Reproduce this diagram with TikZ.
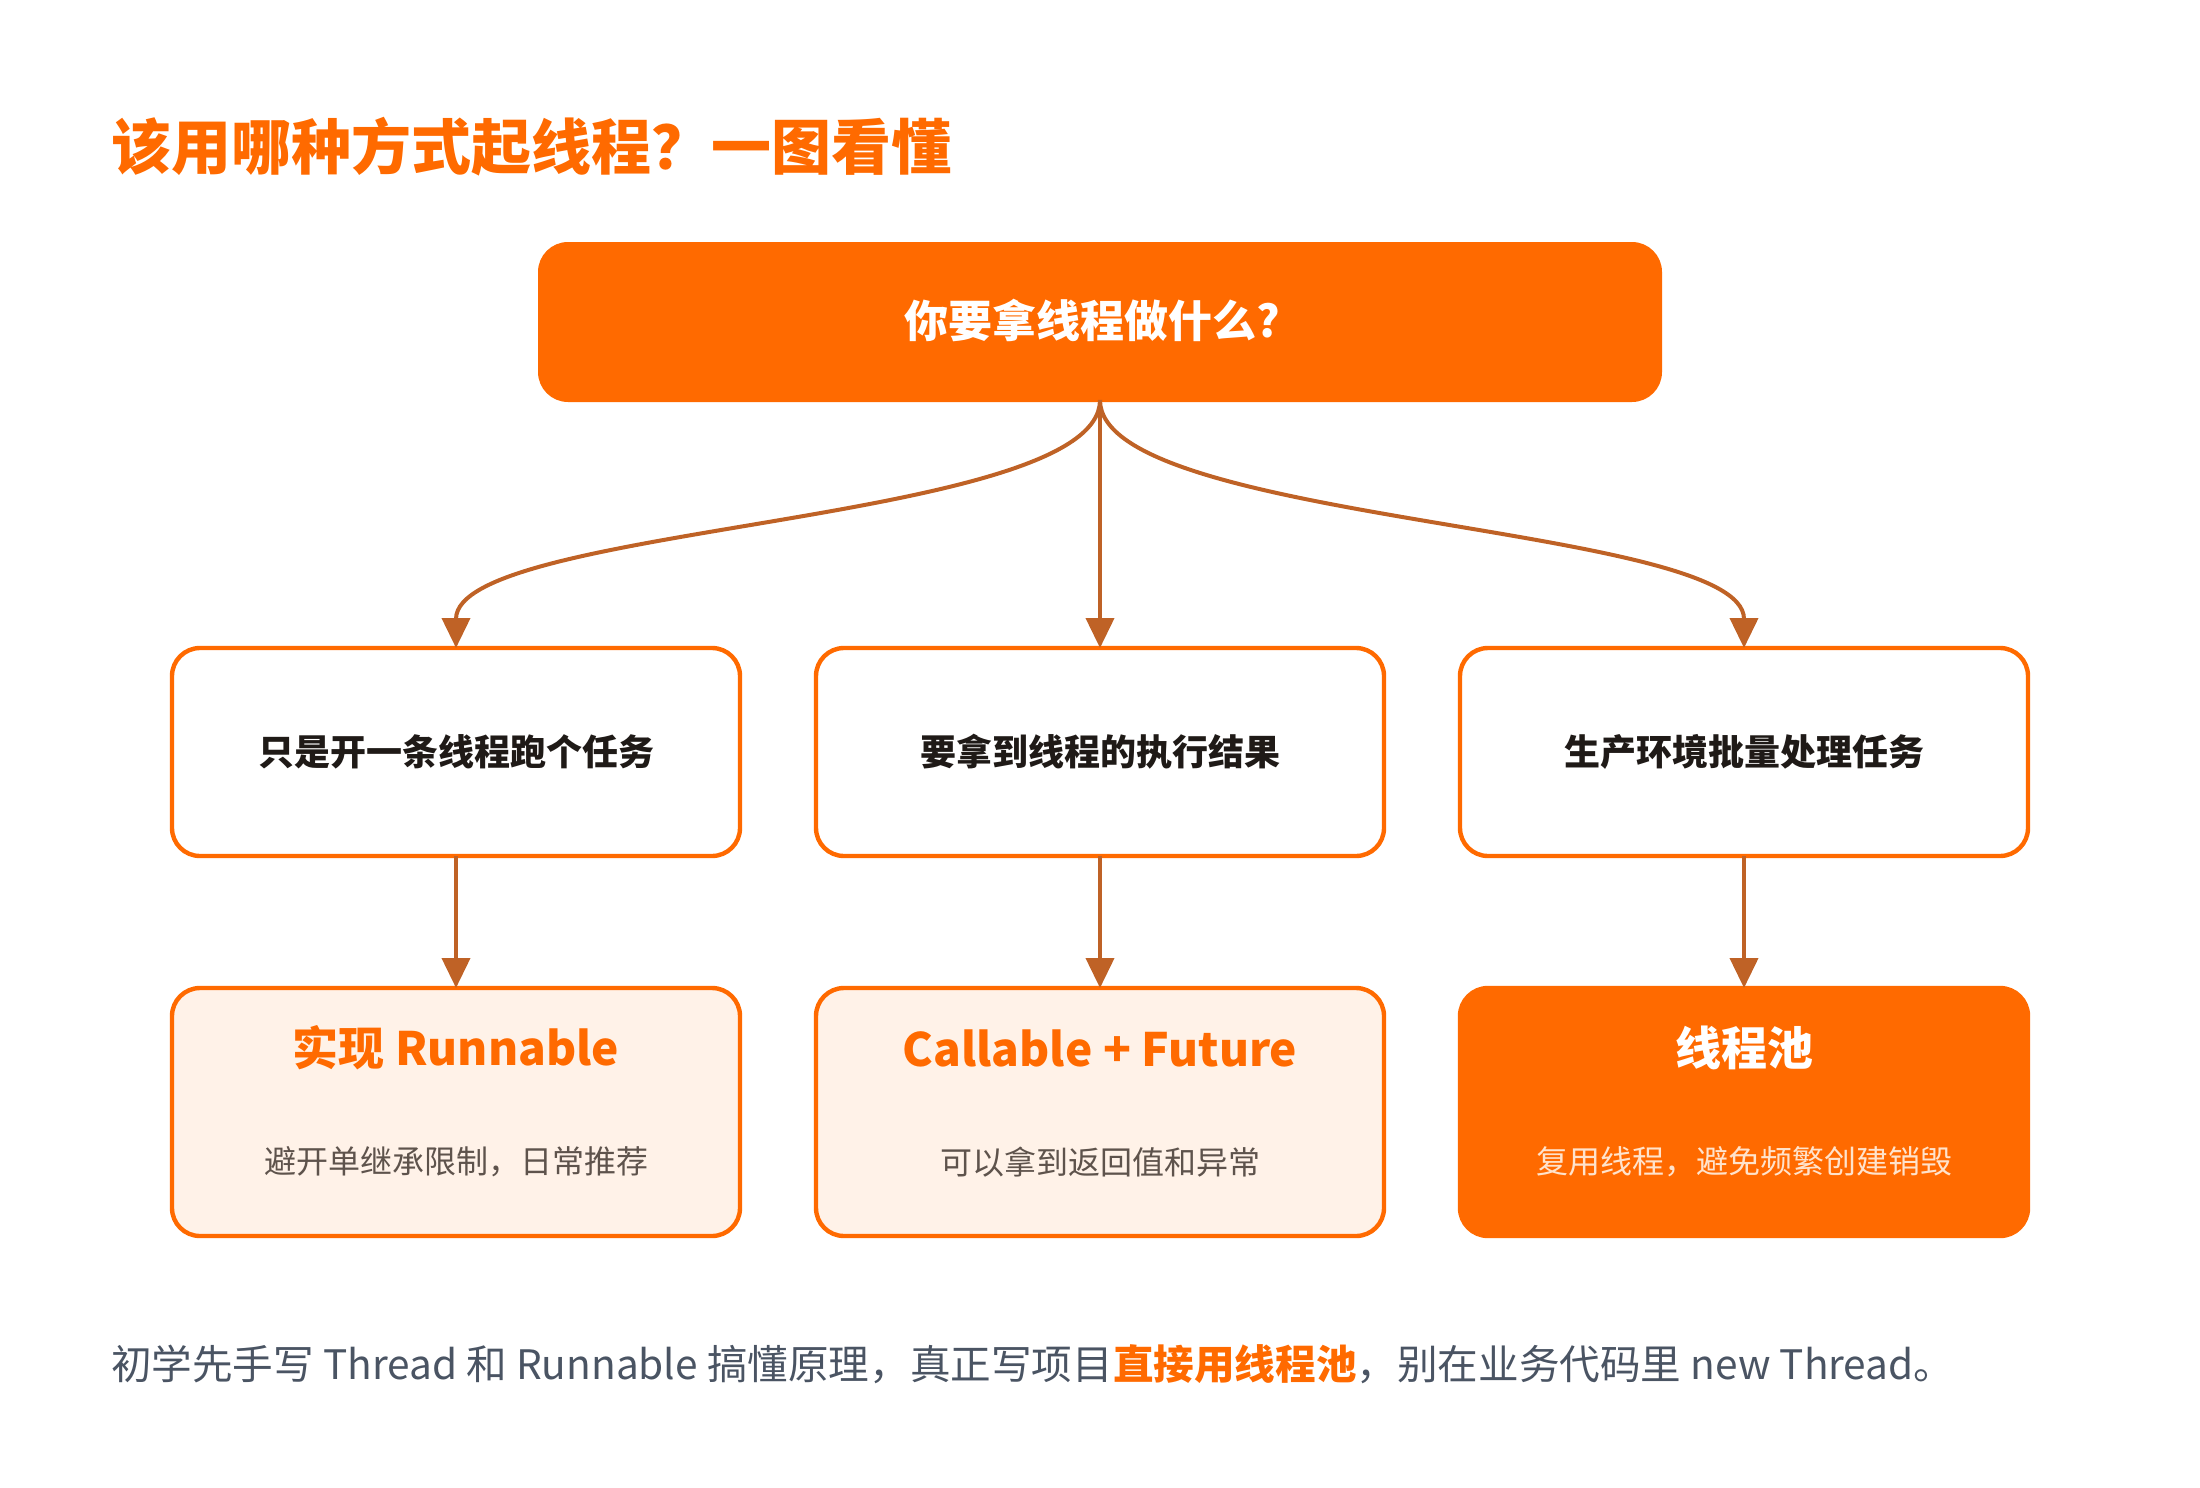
\documentclass[tikz,border=0pt]{standalone}
\usepackage{fontspec}
\setmainfont{Noto Sans CJK SC}
\usepackage{tikz}
\usetikzlibrary{positioning,arrows.meta}

\definecolor{brand}{HTML}{FF6A00}
\definecolor{arrowc}{HTML}{BF6226}
\definecolor{peach}{HTML}{FFF2E8}
\definecolor{subgray}{HTML}{5E534C}
\definecolor{footgray}{HTML}{4A5463}
\definecolor{inkdark}{HTML}{1F1A17}
\definecolor{paleorange}{HTML}{FFE3CC}

\begin{document}
\begin{tikzpicture}[
  x=1pt, y=1pt,
  node distance=124pt and 38pt,
  askbox/.style ={draw=brand, fill=brand, rounded corners=14pt, line width=2pt,
                  minimum width=560pt, minimum height=78pt, outer sep=0pt,
                  text=white, font=\fontsize{22}{26}\selectfont\bfseries},
  choice/.style ={draw=brand, fill=white, rounded corners=14pt, line width=2.2pt,
                  minimum width=284pt, minimum height=104pt, outer sep=0pt,
                  text=inkdark, font=\fontsize{18}{22}\selectfont\bfseries},
  answer/.style ={choice, fill=peach, minimum height=124pt},
  hotanswer/.style={answer, fill=brand},
  anstitle/.style={text=brand, font=\fontsize{23}{28}\selectfont\bfseries},
  anssub/.style  ={text=subgray, font=\fontsize{16}{20}\selectfont},
  arr/.style     ={-{Triangle[length=15pt,width=14pt]}, line width=2pt, draw=arrowc}]

\useasboundingbox (0,0) rectangle (1100,-744);

% title
\node[anchor=west, text=brand, font=\fontsize{30}{36}\selectfont\bfseries] (title) at (52,-73.5)
  {该用哪种方式起线程？一图看懂};

% question
\node[askbox] (ask) at (550,-161) {\raisebox{3.5pt}{你要拿线程做什么?}\hspace*{8pt}};

% situations
\node[choice, below=of ask]     (result) {\raisebox{1.5pt}{要拿到线程的执行结果}};
\node[choice, left=of result]   (simple) {\raisebox{1.5pt}{只是开一条线程跑个任务}};
\node[choice, right=of result]  (batch)  {\raisebox{1.5pt}{生产环境批量处理任务}};

% answers
\node[answer, below=66pt of simple]   (runnable) {};
\node[answer, below=66pt of result]   (callable) {};
\node[hotanswer, below=66pt of batch] (pool)     {};

\node[anstitle] (runnableT) at ([yshift=-30pt]runnable.north) {实现 Runnable};
\node[anssub]   (runnableS) at ([yshift=-87pt]runnable.north) {避开单继承限制，日常推荐};
\node[anstitle] (callableT) at ([yshift=-30pt]callable.north) {Callable + Future};
\node[anssub]   (callableS) at ([yshift=-87pt]callable.north) {可以拿到返回值和异常};
\node[anstitle, text=white]      (poolT) at ([yshift=-30pt]pool.north) {线程池};
\node[anssub, text=paleorange]   (poolS) at ([yshift=-87pt]pool.north) {复用线程，避免频繁创建销毁};

% connectors
\draw[arr] (ask.south) .. controls +(0,-62) and +(0,62) .. (simple.north);
\draw[arr] (ask.south) -- (result.north);
\draw[arr] (ask.south) .. controls +(0,-62) and +(0,62) .. (batch.north);
\draw[arr] (simple) -- (runnable);
\draw[arr] (result) -- (callable);
\draw[arr] (batch)  -- (pool);

% footer
\node[anchor=west, text=footgray, font=\fontsize{20.3}{24}\selectfont] (footer) at (52,-682)
  {初学先手写 Thread 和 Runnable 搞懂原理，真正写项目\textcolor{brand}{\bfseries 直接用线程池}，别在业务代码里 new Thread。};
\end{tikzpicture}
\end{document}
